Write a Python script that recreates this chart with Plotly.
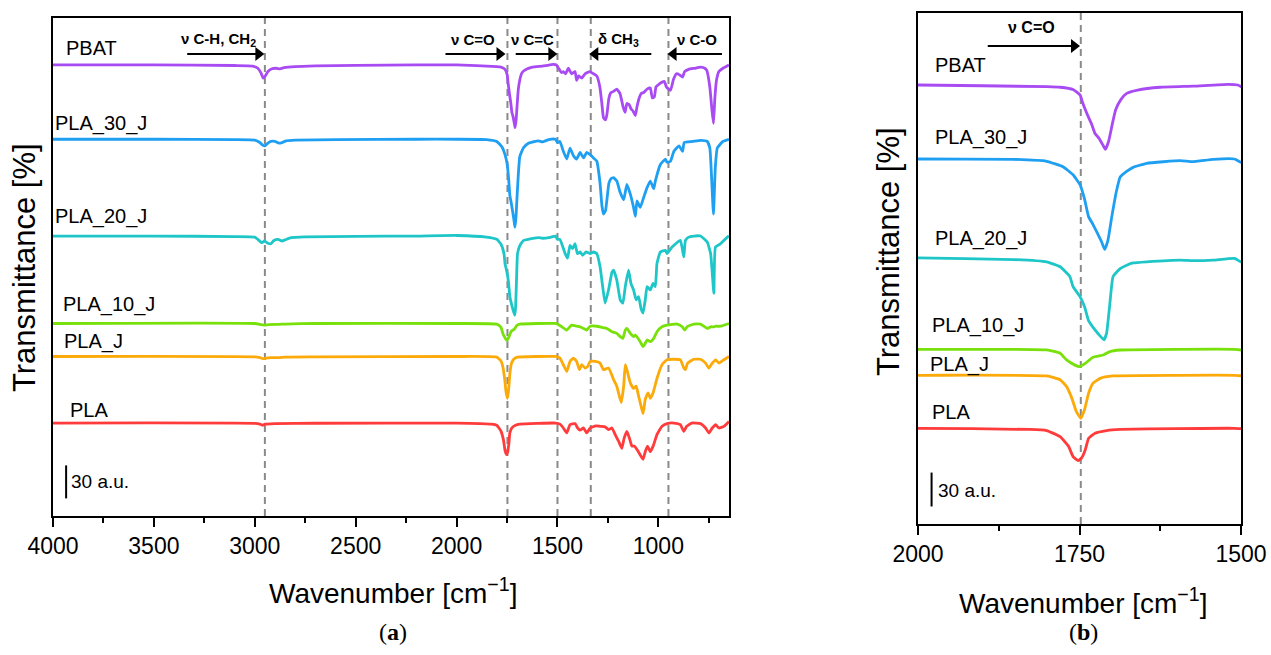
import plotly.graph_objects as go

# ---------------- data ----------------
names = ["PBAT", "PLA_30_J", "PLA_20_J", "PLA_10_J", "PLA_J", "PLA"]
colors = ["#A94BF2", "#1F9FF2", "#1EC6C8", "#78E00A", "#FBAA0A", "#FF3B3B"]

# absorption depth below each spectrum's baseline (a.u.) vs wavenumber (cm-1)
pbat_wn = [4000, 3500, 3100, 3010, 2985, 2970, 2958, 2948, 2935, 2915, 2895, 2875, 2855, 2800, 2700, 2500, 2200, 2000,
           1800, 1780, 1760, 1749, 1745, 1738, 1731, 1726, 1720, 1713, 1710, 1705, 1699, 1694, 1686, 1677, 1660, 1625,
           1574, 1520, 1505, 1495, 1480, 1471, 1460, 1446, 1430, 1413, 1405, 1395, 1380, 1363, 1340, 1322, 1305, 1290,
           1280, 1272, 1262, 1255, 1245, 1235, 1222, 1206, 1190, 1175, 1165, 1156, 1145, 1135, 1125, 1114, 1106, 1095,
           1085, 1073, 1056, 1040, 1030, 1020, 1012, 1000, 985, 970, 960, 940, 925, 910, 895, 880, 870, 850, 820, 790,
           770, 760, 745, 735, 727, 720, 712, 700, 680, 660, 650]
pbat_dep = [0, 0, 0.5, 1, 3, 7, 12, 10, 6, 3.5, 3, 3.5, 2.5, 1.5, 0.8, 0.3, 0, 0,
            1.5, 2, 4, 9, 16, 26, 35, 43, 47, 54, 57, 50, 34, 22, 13, 7.4, 4.5, 2,
            1, -0.5, 0, 3, 7, 6, 8, 3, 8, 6, 14, 10, 12, 8, 6, 8, 10, 20,
            35, 48, 50, 45, 30, 25, 24, 22, 26, 38, 43, 35, 36, 40, 42, 46, 38, 30,
            26, 25, 22, 21, 30, 29, 20, 18, 16, 15, 20, 23, 13, 8, 9, 11, 6, 4, 3, 2,
            3, 5, 20, 40, 53, 30, 14, 6, 3, 1, 0]

pla30_wn = [4000, 3500, 3100, 3000, 2975, 2960, 2950, 2938, 2920, 2900, 2880, 2865, 2845, 2800, 2600, 2200, 2000,
            1852, 1801, 1775, 1760, 1749, 1742, 1736, 1729, 1722, 1716, 1711, 1706, 1700, 1693, 1687, 1677, 1667,
            1646, 1594, 1575, 1543, 1510, 1500, 1488, 1471, 1454, 1438, 1421, 1405, 1388, 1371, 1355, 1338, 1322,
            1305, 1289, 1280, 1272, 1262, 1255, 1245, 1235, 1222, 1206, 1190, 1172, 1156, 1139, 1123, 1114, 1106,
            1090, 1073, 1056, 1040, 1023, 1015, 990, 965, 957, 940, 923, 898, 880, 872, 830, 790, 758, 745, 735,
            727, 718, 708, 680, 650]
pla30_dep = [0, 0, 0.3, 0.8, 3, 5.5, 6, 4, 2, 2, 3.5, 3, 1.5, 0.8, 0.3, 0, 0,
             0.3, 2, 7, 14, 23, 36, 51, 58, 66, 73, 80, 72, 51, 29, 16, 11, 7.4,
             3.8, 1.5, 2.4, 0.3, 0, 3, 2, 11, 18, 8, 15, 18, 12, 17, 12, 14, 17,
             20, 40, 60, 68, 65, 55, 40, 36, 35, 38, 48, 55, 41, 50, 62, 70, 56,
             62, 53, 44, 38, 45, 38, 23, 18, 21, 20, 11, 6, 11, 3, 2, 1, 2, 8, 40,
             68, 26, 8, 2, 0]

pla20_wn = [4000, 3500, 3100, 3000, 2985, 2965, 2952, 2935, 2920, 2905, 2885, 2865, 2850, 2820, 2750, 2500, 2200, 2000,
            1852, 1801, 1780, 1765, 1760, 1749, 1742, 1736, 1729, 1722, 1712, 1708, 1703, 1698, 1687, 1677, 1667,
            1646, 1594, 1575, 1543, 1510, 1500, 1488, 1462, 1450, 1438, 1425, 1413, 1401, 1388, 1375, 1358, 1338,
            1322, 1305, 1289, 1276, 1264, 1247, 1230, 1222, 1206, 1189, 1176, 1164, 1148, 1136, 1123, 1110, 1098,
            1086, 1076, 1065, 1056, 1040, 1026, 1015, 1007, 990, 965, 957, 932, 891, 874, 866, 850, 824, 791, 758,
            741, 725, 717, 692, 658, 650]
pla20_dep = [0, 0, 0.5, 1, 3, 6, 4.5, 6.5, 7, 4, 3, 4.5, 3.5, 1.5, 0.8, 0.3, 0, -0.5,
             1, 3, 7.4, 16, 25, 34, 43, 55, 61, 66, 72, 66, 40, 16, 9, 6, 4,
             3, 1.5, 2, 1.5, 0, 3, 3, 16, 20, 8.5, 11.5, 7, 16, 14.5, 17.5, 14.5, 16,
             14.5, 16, 28, 46, 61, 49, 33, 31, 40, 58, 61, 46, 31, 43, 49, 58, 55,
             66, 70, 58, 46, 49, 43, 46, 25, 14.5, 13, 16, 10, 4, 19, 4, 1, 0, 0, 5.5,
             16, 52, 10, 7, 1, 0]

pla10_wn = [4000, 3000, 2970, 2955, 2930, 2880, 2850, 2700, 2000,
            1801, 1780, 1770, 1757, 1750, 1741, 1729, 1713, 1703, 1687, 1600, 1510,
            1490, 1454, 1430, 1405, 1388, 1371, 1355, 1338, 1305, 1280, 1255, 1230, 1206, 1189, 1176, 1164, 1156,
            1139, 1123, 1114, 1090, 1076, 1065, 1056, 1040, 1023, 1007, 982, 957, 907, 882, 870, 858, 824, 791,
            758, 741, 725, 716, 692, 658, 650]
pla10_dep = [0, 0, 1, 1.5, 1, 0.8, 0.5, 0, 0,
             0.6, 3.5, 9.4, 14, 15.3, 12.4, 7, 5, 2, 0.6, 0, 0,
             1.5, 6, 1.5, 2.5, 3, 4.5, 6, 2.5, 2.5, 3.5, 4.5, 7.5, 9, 12, 13.5, 6, 4.5,
             9, 12, 10.5, 16.5, 21, 18, 15, 16.5, 13.5, 7.5, 3, 1.5, 0.5, 3, 6, 3, 0.5, 0.5,
             4.5, 3, 3, 2.5, 2.5, 0.5, 0]

plaj_wn = [4000, 3000, 2975, 2960, 2945, 2920, 2880, 2850, 2700, 2000,
           1801, 1780, 1770, 1762, 1755, 1748, 1742, 1736, 1729, 1718, 1698, 1600, 1510,
           1488, 1471, 1454, 1438, 1421, 1405, 1391, 1380, 1363, 1350, 1338, 1313, 1289, 1272, 1247, 1222, 1206,
           1184, 1172, 1164, 1156, 1139, 1123, 1110, 1098, 1086, 1076, 1065, 1051, 1040, 1026, 1007, 982, 957,
           923, 891, 874, 866, 855, 824, 791, 766, 750, 733, 716, 700, 675, 650]
plaj_dep = [0, 0.3, 1, 2, 1.5, 1, 1, 0.5, 0.3, 0,
            0.6, 4, 10, 20, 32, 38, 30, 16, 7, 2.7, 0.6, 0, 0,
            1.5, 7.5, 13.5, 4.5, 1.5, 4.5, 12, 7.5, 10.5, 9, 4.5, 4.5, 6, 12, 10.5, 21, 27,
            42, 27, 7.5, 12, 24, 29, 27, 36, 45, 52, 39, 33, 38, 33, 20, 7.5, 3,
            2.5, 3, 10.5, 12, 6, 2.5, 2.5, 6, 10.5, 6, 3, 6, 3, 0]

pla_wn = [4000, 3000, 2975, 2962, 2950, 2900, 2700, 2000,
          1827, 1801, 1780, 1767, 1760, 1752, 1747, 1741, 1736, 1726, 1708, 1687, 1600, 1510,
          1488, 1471, 1454, 1438, 1413, 1400, 1388, 1371, 1355, 1338, 1310, 1289, 1264, 1247, 1230, 1214, 1197,
          1181, 1170, 1156, 1143, 1131, 1118, 1106, 1090, 1076, 1065, 1054, 1040, 1026, 1007, 982, 957, 923,
          891, 874, 860, 835, 791, 766, 750, 733, 716, 700, 675, 650]
pla_dep = [0, 0.3, 1, 2, 1, 0.5, 0.2, 0,
           1, 2, 7.4, 16, 25, 28.6, 26.5, 19, 9, 4.4, 2, 1, 0.3, 0,
           1, 4.5, 9, 1.5, 0.5, 4.5, 6.5, 4.5, 9, 4.5, 2.5, 3, 3.5, 6, 4.5, 10.5, 16.5,
           23, 14, 7.5, 14, 21, 21, 24, 29, 33, 26, 21, 26, 21, 10.5, 3, 0.5, 0,
           1.5, 7.5, 3, 0, 0.5, 4.5, 9, 4.5, 1.5, 4.5, 3, -1.5]

series_wn = [pbat_wn, pla30_wn, pla20_wn, pla10_wn, plaj_wn, pla_wn]
series_dep = [pbat_dep, pla30_dep, pla20_dep, pla10_dep, plaj_dep, pla_dep]

# vertical stacking offsets of the spectra (a.u.)
offsets_a = [410, 342.5, 254.5, 175, 145, 84.5]
offsets_b = [388.5, 323, 235, 154.6, 131.6, 84.7]

# band marker positions (cm-1)
bands_a = [2950, 1748, 1500, 1335, 950]
bands_b = [1748]

# band annotations: label, label centre, arrow tail, arrow head (cm-1)
band_labels_a = ["ν C-H, CH<sub>2</sub>", "ν C=O", "ν C=C", "δ CH<sub>3</sub>", "ν C-O"]
band_label_x_a = [3180, 1920, 1625, 1200, 808]
arrow_tail_a = [3335, 2055, 1707, 1035, 685]
arrow_head_a = [2955, 1760, 1503, 1340, 952]
band_labels_b = ["ν C=O"]
band_label_x_b = [1824]
arrow_tail_b = [1892]
arrow_head_b = [1750]

scale_au = 30

# ---------------- figure ----------------
W, H = 1271, 655
FONT = "Liberation Sans, Arial, sans-serif"


def px(x):
    return x / W


def py(y):
    return 1 - y / H


fig = go.Figure()

for i, name in enumerate(names):
    wn = series_wn[i]
    dep = series_dep[i]
    fig.add_trace(go.Scatter(
        x=wn, y=[offsets_a[i] - d for d in dep], xaxis="x", yaxis="y", mode="lines", name=name,
        line=dict(color=colors[i], width=2.8, shape="spline", smoothing=0.4), showlegend=False,
        hoverinfo="skip"))
    fig.add_trace(go.Scatter(
        x=wn, y=[offsets_b[i] - d for d in dep], xaxis="x2", yaxis="y2", mode="lines", name=name,
        line=dict(color=colors[i], width=2.8, shape="spline", smoothing=0.4), showlegend=False,
        hoverinfo="skip"))

# scale bars
fig.add_trace(go.Scatter(x=[3935, 3935], y=[16, 16 + scale_au], xaxis="x", yaxis="y", mode="lines",
                         line=dict(color="black", width=2), showlegend=False, hoverinfo="skip"))
fig.add_trace(go.Scatter(x=[1979, 1979], y=[15.5, 15.5 + scale_au], xaxis="x2", yaxis="y2", mode="lines",
                         line=dict(color="black", width=2), showlegend=False, hoverinfo="skip"))


def add_arrows(tails, heads, yv, xa, ya, px_per_unit):
    for t, h in zip(tails, heads):
        direction = 1 if h < t else -1  # reversed axis: smaller wavenumber is to the right
        half = 5.5 / px_per_unit  # half of the arrow head length in data units
        base = h + direction * half * 1.0
        fig.add_trace(go.Scatter(x=[t, base], y=[yv, yv], xaxis=xa, yaxis=ya, mode="lines",
                                 line=dict(color="black", width=2), showlegend=False, hoverinfo="skip"))
        fig.add_trace(go.Scatter(x=[base], y=[yv], xaxis=xa, yaxis=ya, mode="markers",
                                 marker=dict(symbol="triangle-right" if direction == 1 else "triangle-left",
                                             size=12, color="black", line=dict(width=0)),
                                 showlegend=False, hoverinfo="skip"))


add_arrows(arrow_tail_a, arrow_head_a, 420, "x", "y", 0.201)
add_arrows(arrow_tail_b, arrow_head_b, 423, "x2", "y2", 0.646)

shapes = []
for b in bands_a:
    shapes.append(dict(type="line", xref="x", yref="y domain", x0=b, x1=b, y0=0, y1=1,
                       line=dict(color="#8a8a8a", width=2, dash="7px,5px"), layer="below"))
for b in bands_b:
    shapes.append(dict(type="line", xref="x2", yref="y2 domain", x0=b, x1=b, y0=0, y1=1,
                       line=dict(color="#8a8a8a", width=2, dash="7px,5px"), layer="below"))

ann = []
# sample labels
labels_a = [(3945, 425), (4000, 357), (4000, 272), (3960, 192), (3955, 159), (3925, 96)]
labels_b = [(1977, 406), (1977, 342), (1977, 253), (1981, 176), (1984, 141), (1981, 99)]
for i, name in enumerate(names):
    ann.append(dict(x=labels_a[i][0], y=labels_a[i][1], xref="x", yref="y", text=name, showarrow=False,
                    xanchor="left", yanchor="middle", font=dict(family=FONT, size=20, color="black")))
    ann.append(dict(x=labels_b[i][0], y=labels_b[i][1], xref="x2", yref="y2", text=name, showarrow=False,
                    xanchor="left", yanchor="middle", font=dict(family=FONT, size=20, color="black")))

# scale bar text
ann.append(dict(x=3922, y=31, xref="x", yref="y", text="30 a.u.", showarrow=False, xanchor="left",
                yanchor="middle", font=dict(family=FONT, size=19, color="black")))
ann.append(dict(x=1972, y=30, xref="x2", yref="y2", text="30 a.u.", showarrow=False, xanchor="left",
                yanchor="middle", font=dict(family=FONT, size=19, color="black")))

for t, x in zip(band_labels_a, band_label_x_a):
    ann.append(dict(x=x, y=433, xref="x", yref="y", text="<b>" + t + "</b>", showarrow=False,
                    xanchor="center", yanchor="middle", font=dict(family=FONT, size=15, color="black")))
for t, x in zip(band_labels_b, band_label_x_b):
    ann.append(dict(x=x, y=439, xref="x2", yref="y2", text="<b>" + t + "</b>", showarrow=False,
                    xanchor="center", yanchor="middle", font=dict(family=FONT, size=16, color="black")))

# axis titles and captions
title_font = dict(family=FONT, size=28, color="black")
ytitle_font = dict(family=FONT, size=31, color="black")
ann.append(dict(x=px(393), y=py(591), xref="paper", yref="paper", text="Wavenumber [cm<sup>−1</sup>]",
                showarrow=False, xanchor="center", yanchor="middle", font=title_font))
ann.append(dict(x=px(1083), y=py(601), xref="paper", yref="paper", text="Wavenumber [cm<sup>−1</sup>]",
                showarrow=False, xanchor="center", yanchor="middle", font=title_font))
ann.append(dict(x=px(24), y=py(268), xref="paper", yref="paper", text="Transmittance [%]", textangle=-90,
                showarrow=False, xanchor="center", yanchor="middle", font=ytitle_font))
ann.append(dict(x=px(888), y=py(251), xref="paper", yref="paper", text="Transmittance [%]", textangle=-90,
                showarrow=False, xanchor="center", yanchor="middle", font=ytitle_font))
cap_font = dict(family="Liberation Serif, Times New Roman, serif", size=24, color="black")
ann.append(dict(x=px(393), y=py(632), xref="paper", yref="paper", text="(<b>a</b>)", showarrow=False,
                xanchor="center", yanchor="middle", font=cap_font))
ann.append(dict(x=px(1083), y=py(632), xref="paper", yref="paper", text="(<b>b</b>)", showarrow=False,
                xanchor="center", yanchor="middle", font=cap_font))

axis_common = dict(showline=True, linecolor="black", linewidth=1.6, mirror=True, showgrid=False,
                   zeroline=False, automargin=False)
xcommon = dict(axis_common, ticks="outside", ticklen=9, tickwidth=1.6, tickcolor="black",
               tickfont=dict(family=FONT, size=23, color="black"))
ycommon = dict(axis_common, ticks="", showticklabels=False)

fig.update_layout(
    width=W, height=H, autosize=False,
    margin=dict(l=0, r=0, t=0, b=0, pad=0, autoexpand=False),
    paper_bgcolor="white", plot_bgcolor="white",
    showlegend=False,
    xaxis=dict(xcommon, domain=[px(53), px(729)], range=[4000, 650], anchor="y", tick0=0, dtick=500,
               minor=dict(ticks="outside", ticklen=5, tickwidth=1.6, tickcolor="black", tick0=0, dtick=250)),
    yaxis=dict(ycommon, domain=[py(516), py(18)], range=[0, 452.7], anchor="x"),
    xaxis2=dict(xcommon, domain=[px(918), px(1241)], range=[2000, 1500], anchor="y2", tick0=0, dtick=250,
                minor=dict(ticks="outside", ticklen=5, tickwidth=1.6, tickcolor="black", tick0=0, dtick=125)),
    yaxis2=dict(ycommon, domain=[py(524), py(13)], range=[0, 452.2], anchor="x2"),
    shapes=shapes,
    annotations=ann,
)

fig.write_html("out.html", config={"displayModeBar": False},
               post_script="document.body.style.margin='0';")
